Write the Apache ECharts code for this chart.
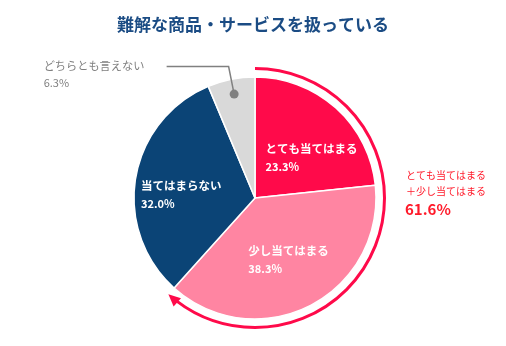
<!DOCTYPE html>
<html><head><meta charset="utf-8">
<script src="https://cdn.jsdelivr.net/npm/echarts@6/dist/echarts.min.js"></script>
<style>html,body{margin:0;padding:0;background:#fff}#c{width:506px;height:346px}</style>
</head><body><div id="c"></div>
<script>
const titleText = '難解な商品・サービスを扱っている';
const categories = ['とても当てはまる', '少し当てはまる', '当てはまらない', 'どちらとも言えない'];
const values = [23.3, 38.3, 32.0, 6.3];
const annotationLines = ['とても当てはまる', '＋少し当てはまる'];
const highlightCount = 2;

const colors = ['#FF0A4A', '#FF85A2', '#0B4476', '#D9D9D9'];
const annotColor = '#FF1A2A';
const FONT = '"Noto Sans CJK JP", "Noto Sans", sans-serif';
const cx = 255, cy = 198, R = 121;
const total = values.reduce((a, b) => a + b, 0);
const topShare = values.slice(0, highlightCount).reduce((a, b) => a + b, 0);

// inside label boxes: [width, offsetX, offsetY]
const insideLab = [[92, 14, 7], [81, 5, 5], [81, -11, 7]];

const pieData = categories.map((c, i) => {
  const d = { name: c, value: values[i], itemStyle: { color: colors[i] } };
  if (i < 3) {
    d.label = { show: true, position: 'inside', offset: [insideLab[i][1], insideLab[i][2]],
      rich: { n: { width: insideLab[i][0], align: 'left', color: '#fff', fontSize: 11.5, fontWeight: 'bold', fontFamily: FONT, lineHeight: 18 },
              v: { width: insideLab[i][0], align: 'left', color: '#fff', fontSize: 11, fontWeight: 'bold', fontFamily: FONT, lineHeight: 18 } } };
  } else {
    d.label = { show: false };
  }
  return d;
});

const overlayData = categories.map((c, i) => ({
  name: c, value: values[i],
  itemStyle: { color: 'rgba(0,0,0,0)' },
  label: { show: i === 3 },
  labelLine: { show: i === 3 }
}));

// arc + arrow geometry derived from the data share
const AR = 129.5;
const tipAng = -Math.PI / 2 + 2 * Math.PI * topShare / total;
const arrowLen = 12, arrowW = 11;
const tip = [cx + AR * Math.cos(tipAng), cy + AR * Math.sin(tipAng)];
const tan = [-Math.sin(tipAng), Math.cos(tipAng)];
const nor = [Math.cos(tipAng), Math.sin(tipAng)];
const base = [tip[0] - arrowLen * tan[0], tip[1] - arrowLen * tan[1]];
const arcEnd = tipAng - (arrowLen - 2) / AR;

// gray dot at leader line start
const grayStart = values.slice(0, 3).reduce((a, b) => a + b, 0);
const grayMid = -Math.PI / 2 + 2 * Math.PI * (grayStart + values[3] / 2) / total;
const dotR = 106;

const chart = echarts.init(document.getElementById('c'), null, { renderer: 'canvas' });
chart.setOption({
  backgroundColor: '#fff',
  animation: false,
  title: { text: titleText, left: 'center', top: 11,
    textStyle: { color: '#1B4C84', fontSize: 17, fontWeight: 'bold', fontFamily: FONT } },
  series: [
    {
      type: 'pie', center: [cx, cy], radius: [0, R], startAngle: 90, clockwise: true,
      avoidLabelOverlap: false, silent: true,
      itemStyle: { borderColor: '#fff', borderWidth: 1.5 },
      label: { formatter: p => '{n|' + p.name + '}\n{v|' + p.value.toFixed(1) + '%}' },
      labelLine: { show: false },
      emphasis: { disabled: true },
      data: pieData
    },
    {
      type: 'pie', center: [cx, cy], radius: [0, dotR], startAngle: 90, clockwise: true,
      avoidLabelOverlap: false, silent: true, z: 3,
      label: { position: 'outside', distanceToLabelLine: 22, padding: [16, 0, 0, 0],
        formatter: p => '{n|' + p.name + '}\n{v|' + p.value.toFixed(1) + '%}',
        rich: { n: { width: 101, align: 'left', color: '#7F7F7F', fontSize: 11.2, fontFamily: FONT, lineHeight: 17 },
                v: { width: 101, align: 'left', color: '#7F7F7F', fontSize: 11, fontFamily: FONT, lineHeight: 17 } } },
      labelLine: { length: 28, length2: 62, smooth: false, lineStyle: { color: '#808080', width: 1.5 } },
      emphasis: { disabled: true },
      data: overlayData
    }
  ],
  graphic: [
    { type: 'arc', silent: true, z: 10,
      shape: { cx: cx, cy: cy, r: AR, startAngle: -Math.PI / 2, endAngle: arcEnd, clockwise: true },
      style: { stroke: '#FF0A4A', lineWidth: 3, fill: null } },
    { type: 'polygon', silent: true, z: 10,
      shape: { points: [tip,
        [base[0] + arrowW / 2 * nor[0], base[1] + arrowW / 2 * nor[1]],
        [base[0] - arrowW / 2 * nor[0], base[1] - arrowW / 2 * nor[1]]] },
      style: { fill: '#FF0A4A' } },
    { type: 'circle', silent: true, z: 10,
      shape: { cx: cx + dotR * Math.cos(grayMid), cy: cy + dotR * Math.sin(grayMid), r: 4.5 },
      style: { fill: '#808080' } },
    { type: 'text', silent: true, left: 406, top: 170,
      style: { text: annotationLines[0], fill: annotColor, fontSize: 10, fontFamily: FONT } },
    { type: 'text', silent: true, left: 406, top: 186,
      style: { text: annotationLines[1], fill: annotColor, fontSize: 10, fontFamily: FONT } },
    { type: 'text', silent: true, left: 405, top: 202,
      style: { text: topShare.toFixed(1) + '%', fill: annotColor, fontSize: 15, fontWeight: 'bold', fontFamily: FONT } }
  ]
});
</script></body></html>
